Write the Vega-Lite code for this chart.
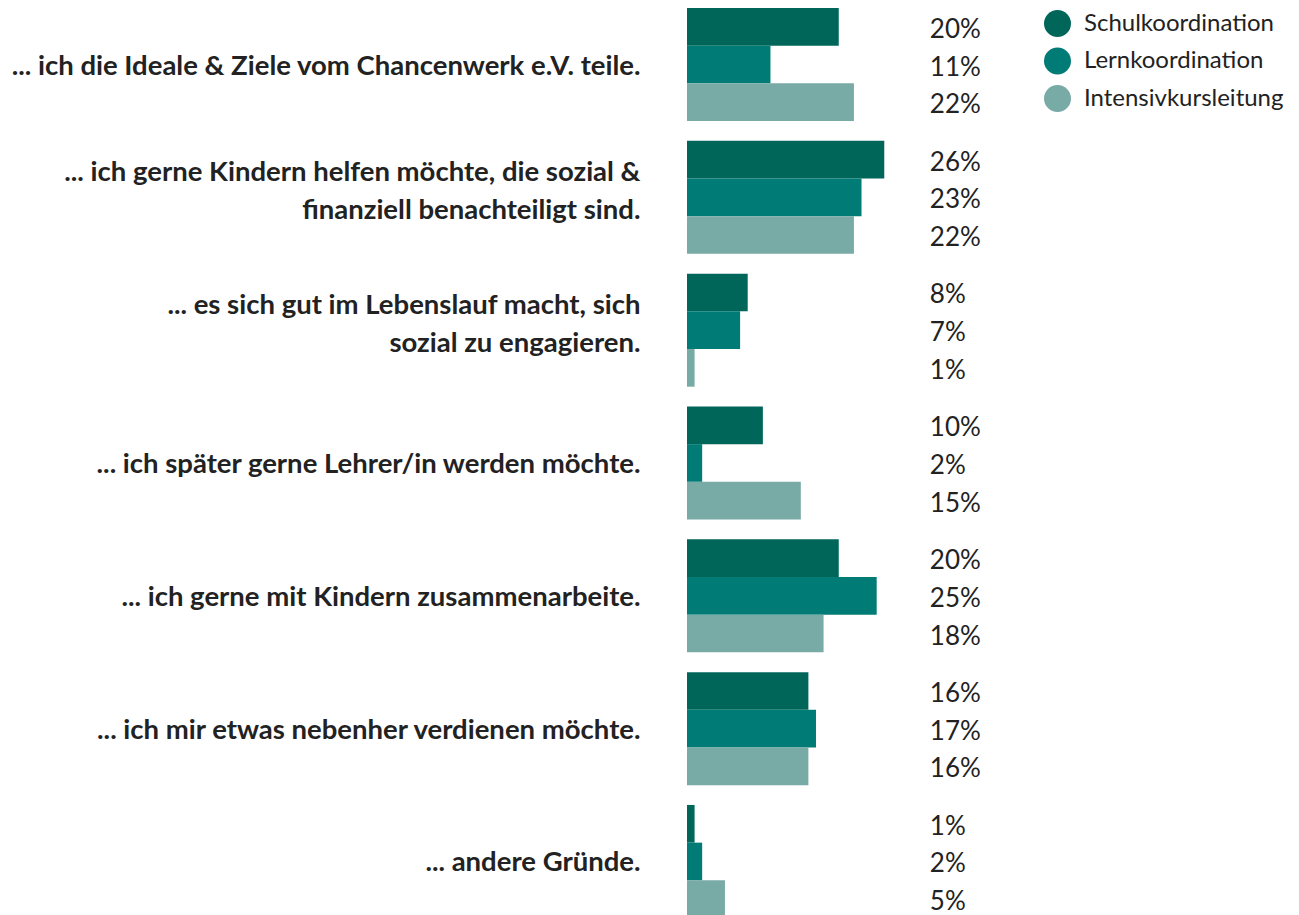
{
  "$schema": "https://vega.github.io/schema/vega-lite/v6.json",
  "autosize": {"type": "none"},
  "padding": {"left": 687, "top": 8, "right": 5, "bottom": 0},
  "width": 607,
  "height": 910,
  "background": "white",
  "config": {
    "font": "Lato",
    "view": {"stroke": null}
  },
  "data": {
    "values": [
      {"cat": "... ich die Ideale & Ziele vom Chancenwerk e.V. teile.", "series": "Schulkoordination", "value": 0.20},
      {"cat": "... ich die Ideale & Ziele vom Chancenwerk e.V. teile.", "series": "Lernkoordination", "value": 0.11},
      {"cat": "... ich die Ideale & Ziele vom Chancenwerk e.V. teile.", "series": "Intensivkursleitung", "value": 0.22},
      {"cat": "... ich gerne Kindern helfen möchte, die sozial &|finanziell benachteiligt sind.", "series": "Schulkoordination", "value": 0.26},
      {"cat": "... ich gerne Kindern helfen möchte, die sozial &|finanziell benachteiligt sind.", "series": "Lernkoordination", "value": 0.23},
      {"cat": "... ich gerne Kindern helfen möchte, die sozial &|finanziell benachteiligt sind.", "series": "Intensivkursleitung", "value": 0.22},
      {"cat": "... es sich gut im Lebenslauf macht, sich|sozial zu engagieren.", "series": "Schulkoordination", "value": 0.08},
      {"cat": "... es sich gut im Lebenslauf macht, sich|sozial zu engagieren.", "series": "Lernkoordination", "value": 0.07},
      {"cat": "... es sich gut im Lebenslauf macht, sich|sozial zu engagieren.", "series": "Intensivkursleitung", "value": 0.01},
      {"cat": "... ich später gerne Lehrer/in werden möchte.", "series": "Schulkoordination", "value": 0.10},
      {"cat": "... ich später gerne Lehrer/in werden möchte.", "series": "Lernkoordination", "value": 0.02},
      {"cat": "... ich später gerne Lehrer/in werden möchte.", "series": "Intensivkursleitung", "value": 0.15},
      {"cat": "... ich gerne mit Kindern zusammenarbeite.", "series": "Schulkoordination", "value": 0.20},
      {"cat": "... ich gerne mit Kindern zusammenarbeite.", "series": "Lernkoordination", "value": 0.25},
      {"cat": "... ich gerne mit Kindern zusammenarbeite.", "series": "Intensivkursleitung", "value": 0.18},
      {"cat": "... ich mir etwas nebenher verdienen möchte.", "series": "Schulkoordination", "value": 0.16},
      {"cat": "... ich mir etwas nebenher verdienen möchte.", "series": "Lernkoordination", "value": 0.17},
      {"cat": "... ich mir etwas nebenher verdienen möchte.", "series": "Intensivkursleitung", "value": 0.16},
      {"cat": "... andere Gründe.", "series": "Schulkoordination", "value": 0.01},
      {"cat": "... andere Gründe.", "series": "Lernkoordination", "value": 0.02},
      {"cat": "... andere Gründe.", "series": "Intensivkursleitung", "value": 0.05}
    ]
  },
  "encoding": {
    "y": {
      "field": "cat",
      "type": "nominal",
      "sort": null,
      "scale": {"paddingInner": 0.149, "paddingOuter": 0},
      "axis": {
        "title": null,
        "domain": false,
        "ticks": false,
        "labelExpr": "split(datum.value, '|')",
        "labelFont": "Lato",
        "labelFontWeight": "bold",
        "labelFontSize": 27.5,
        "labelColor": "#222222",
        "labelPadding": 47,
        "labelLimit": 0,
        "labelLineHeight": 38,
        "labelAlign": "right",
        "labelBaseline": "middle",
        "labelOffset": {"condition": {"test": "indexof(datum.value, '|') >= 0", "value": -24}, "value": 2}
      }
    },
    "yOffset": {
      "field": "series",
      "type": "nominal",
      "sort": ["Schulkoordination", "Lernkoordination", "Intensivkursleitung"],
      "scale": {"paddingInner": 0, "paddingOuter": 0}
    }
  },
  "layer": [
    {
      "mark": {"type": "bar"},
      "encoding": {
        "x": {
          "field": "value",
          "type": "quantitative",
          "scale": {"domain": [0, 0.8], "nice": false},
          "axis": null
        },
        "color": {
          "field": "series",
          "type": "nominal",
          "sort": ["Schulkoordination", "Lernkoordination", "Intensivkursleitung"],
          "scale": {
            "domain": ["Schulkoordination", "Lernkoordination", "Intensivkursleitung"],
            "range": ["#00665a", "#007b76", "#78aaa6"]
          },
          "legend": {
            "title": null,
            "orient": "none",
            "legendX": 357,
            "legendY": 2,
            "symbolType": "circle",
            "symbolSize": 729,
            "symbolStrokeWidth": 0,
            "symbolOpacity": 1,
            "labelFont": "Lato",
            "labelFontSize": 24,
            "labelColor": "#222222",
            "labelOffset": 13,
            "labelLimit": 0,
            "rowPadding": 10.5
          }
        }
      }
    },
    {
      "mark": {"type": "text", "align": "left", "baseline": "middle", "dy": 3, "fontSize": 26, "color": "#222222", "font": "Lato"},
      "encoding": {
        "x": {"datum": 0.32, "type": "quantitative"},
        "text": {"field": "value", "type": "quantitative", "format": ".0%"}
      }
    }
  ]
}
